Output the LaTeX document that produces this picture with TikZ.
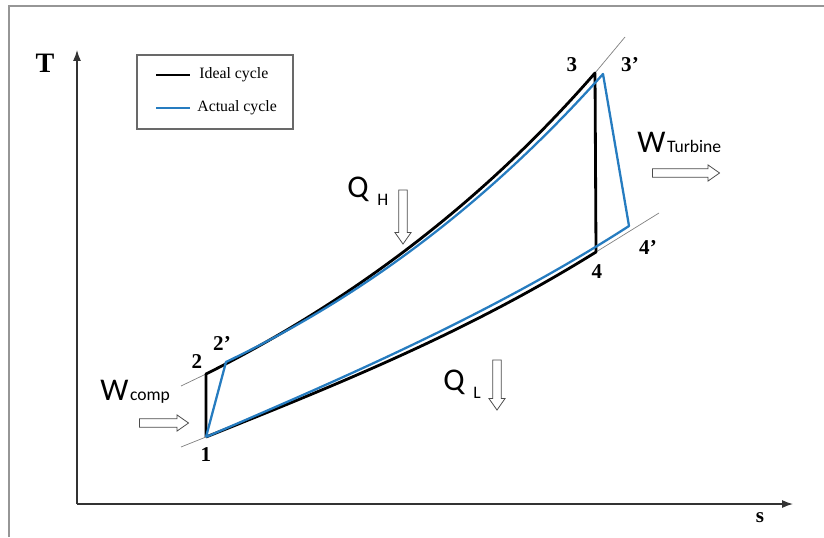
\documentclass[tikz,border=0pt]{standalone}
\usepackage{fontspec}
\setmainfont{Liberation Serif}
\newfontfamily\calibfont{Carlito}
\usepackage{xcolor}
\usetikzlibrary{arrows.meta,positioning,shapes.arrows,calc}
\definecolor{actualblue}{RGB}{38,124,192}
\definecolor{framegray}{RGB}{150,150,150}

\begin{document}
\begin{tikzpicture}[
  x=0.02cm, y=-0.02cm,
  ideal/.style={line width=1.6pt, black, line join=round},
  actual/.style={line width=1.3pt, actualblue, line join=round},
  isobar/.style={line width=0.4pt, gray},
  axis/.style={line width=0.7pt, black!80, -{Latex[length=2.2mm, width=1.6mm]}},
  statelbl/.style={font=\bfseries\fontsize{12}{12}\selectfont, inner sep=0pt},
  axlbl/.style={font=\bfseries\fontsize{16}{16}\selectfont, inner sep=0pt},
  legtext/.style={font=\fontsize{9}{9}\selectfont, inner sep=0pt, anchor=west},
  energy/.style={font=\calibfont\fontsize{18}{18}\selectfont, inner sep=0pt, anchor=base west},
  sub/.style={font=\calibfont\fontsize{10}{10}\selectfont, inner sep=0pt},
  hollow/.style={single arrow, draw=black!70, fill=white, line width=0.45pt,
              inner xsep=0pt, inner ysep=2.2pt, single arrow head extend=2.2pt,
              single arrow tip angle=70},
]
\useasboundingbox (0,0) rectangle (824,537);
\draw[framegray, line width=1.2pt] (9,537) -- (9,6) -- (824,6);

\coordinate (origin) at (77,504);
\coordinate (tmax) at (77,50);
\coordinate (smax) at (793,504);
\draw[axis] (origin) -- (tmax);
\draw[axis] (origin) -- (smax);
\node[axlbl] (tlbl) at (45,63) {T};
\node[statelbl] (slbl) at (760,518) {s};

\coordinate (p1) at (206,437);
\coordinate (p2) at (206,374);
\coordinate (p2a) at (226,362);
\coordinate (p3) at (595,73);
\coordinate (p3a) at (603,74);
\coordinate (p4) at (596,252);
\coordinate (p4a) at (629,226);

\coordinate (hiL) at (181,386);
\coordinate (hiR) at (625,37);
\coordinate (loL) at (181,447);
\coordinate (loR) at (659,213);
\draw[isobar] (hiL) -- (p2);
\draw[isobar] (p3) -- (hiR);
\draw[isobar] (loL) -- (p1);
\draw[isobar] (p4) -- (loR);

\draw[ideal] (p1) -- (p2) .. controls (340,307) and (475,211) .. (p3)
  -- (p4) .. controls (466,333) and (336,385) .. (p1);
\draw[actual] (p1) -- (p2a) .. controls (351,302) and (478,214) .. (p3a)
  -- (p4a) .. controls (494,313) and (341,379) .. (p1);

\node[statelbl] (l1) at (206,455) {1};
\node[statelbl] (l2) at (197,362) {2};
\node[statelbl] (l2a) at (222,343) {2'};
\node[statelbl] (l3) at (572,65) {3};
\node[statelbl] (l3a) at (630,65) {3'};
\node[statelbl] (l4) at (597,272) {4};
\node[statelbl] (l4a) at (648,247) {4'};

\draw[framegray!70!black, line width=0.6pt] (137,55) rectangle (293,129);
\coordinate (legA) at (156,75);
\coordinate (legB) at (190,75);
\coordinate (legC) at (156,108);
\coordinate (legD) at (190,108);
\draw[ideal] (legA) -- (legB);
\draw[actual] (legC) -- (legD);
\node[legtext] (idealtxt) at (199,75) {Ideal cycle};
\node[legtext] (actualtxt) at (197,108) {Actual cycle};

\node[energy] (wcomp) at (100,400) {W};
\node[sub, right=0.5pt of wcomp.base east, anchor=base west] (wcompsub) {comp};
\node[hollow, minimum height=0.98cm] (wcomparr) at (161,423) {};

\node[energy] (wturb) at (637,152) {W};
\node[sub, right=0.5pt of wturb.base east, anchor=base west] (wturbsub) {Turbine};
\node[hollow, minimum height=1.34cm] (wturbarr) at (683,173) {};

\node[energy] (qh) at (347,197) {Q};
\node[sub, anchor=base west] (qhsub) at (377,205) {H};
\node[hollow, minimum height=1.08cm, rotate=-90] (qharr) at (403,214) {};

\node[energy] (ql) at (443,390) {Q};
\node[sub, anchor=base west] (qlsub) at (473,398) {L};
\node[hollow, minimum height=1.0cm, rotate=-90] (qlarr) at (497,382) {};
\end{tikzpicture}
\end{document}
